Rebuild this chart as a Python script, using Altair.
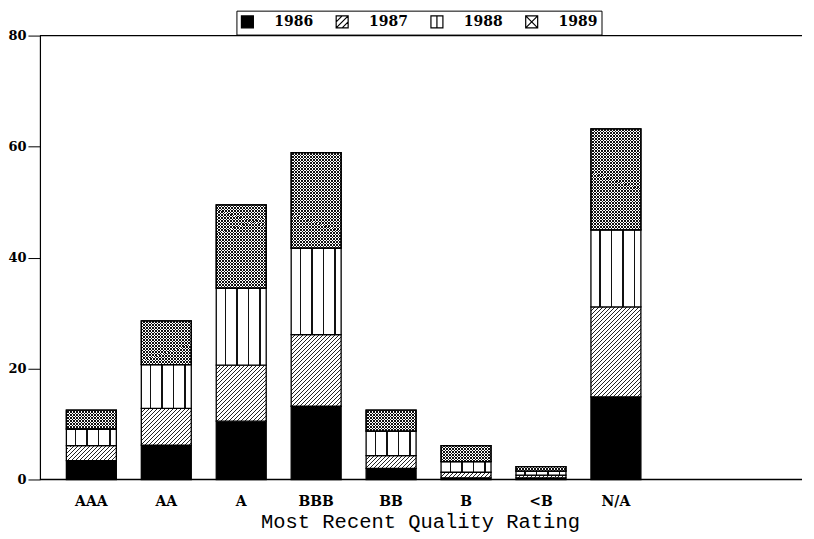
import altair as alt
import pandas as pd
import math

# ---- data ----
ratings = ["AAA", "AA", "A", "BBB", "BB", "B", "<B", "N/A"]
years = ["1986", "1987", "1988", "1989"]
v1986 = [3.4, 6.2, 10.5, 13.2, 2.0, 0.3, 0.3, 14.9]
v1987 = [2.7, 6.6, 10.1, 12.9, 2.3, 1.0, 0.5, 16.2]
v1988 = [3.0, 7.9, 13.9, 15.6, 4.4, 1.9, 0.7, 13.9]
v1989 = [3.4, 7.9, 15.0, 17.2, 3.8, 2.9, 0.8, 18.2]
y_ticks = [0, 20, 40, 60, 80]

series = {"1986": v1986, "1987": v1987, "1988": v1988, "1989": v1989}
rows = []
for yr in years:
    for r, v in zip(ratings, series[yr]):
        rows.append({"rating": r, "year": yr, "value": v})
df = pd.DataFrame(rows)

# ---- layout constants ----
W, H = 764, 445
YMAX = 80
BAR_W = 50
D = 256.0


def stripe_stops(period, lw, color, bg):
    parts = []
    n = int(math.ceil(D / period))
    for k in range(n):
        a = k * period / D
        b = min((k * period + lw) / D, 1.0)
        c = min((k + 1) * period / D, 1.0)
        if a >= 1.0:
            break
        parts.append("{offset:%.6f,color:'%s'}" % (a, color))
        parts.append("{offset:%.6f,color:'%s'}" % (b, color))
        parts.append("{offset:%.6f,color:'%s'}" % (b, bg))
        parts.append("{offset:%.6f,color:'%s'}" % (c, bg))
    return "[" + ",".join(parts) + "]"


def vline_stops(positions, lw, color, bg):
    parts = ["{offset:0,color:'%s'}" % bg]
    for p in positions:
        parts.append("{offset:%.4f,color:'%s'}" % (p, bg))
        parts.append("{offset:%.4f,color:'%s'}" % (p, color))
        parts.append("{offset:%.4f,color:'%s'}" % (p + lw, color))
        parts.append("{offset:%.4f,color:'%s'}" % (p + lw, bg))
    parts.append("{offset:1,color:'%s'}" % bg)
    return "[" + ",".join(parts) + "]"


hatch = stripe_stops(4.0, 1.0, "#222222", "white")
cross_a = stripe_stops(3.0, 1.0, "#111111", "white")
cross_b = stripe_stops(3.0, 1.0, "#111111", "rgba(0,0,0,0)")
vlines = vline_stops([0.17, 0.40, 0.63, 0.86], 0.03, "#111111", "white")

slash = "{gradient:'linear',x1:0,y1:0,x2:%g*%d/datum.s2,y2:%g*datum.h/datum.s2,stops:%s}"
back = "{gradient:'linear',x1:0,y1:1,x2:%g*%d/datum.s2,y2:1-%g*datum.h/datum.s2,stops:%s}"

pat_expr = (
    "datum.year == '1986' ? 'black' : "
    "datum.year == '1987' ? " + slash % (D, BAR_W, D, hatch) + " : "
    "datum.year == '1988' ? {gradient:'linear',x1:0,y1:0,x2:1,y2:0,stops:" + vlines + "} : "
    + slash % (D, BAR_W, D, cross_a)
)
over_expr = back % (D, BAR_W, D, cross_b)

x_enc = alt.X(
    "rating:N",
    sort=ratings,
    scale=alt.Scale(domain=ratings, range=[14, 615], paddingInner=1 / 3, paddingOuter=1 / 6),
    axis=alt.Axis(
        title="Most Recent Quality Rating",
        labelAngle=0,
        ticks=False,
        domain=False,
        labelPadding=15,
        labelFont="DejaVu Serif",
        labelFontWeight="bold",
        labelFontSize=14,
        labelColor="black",
        titleFont="Liberation Mono",
        titleFontWeight="normal",
        titleFontSize=20.5,
        titleColor="black",
        titlePadding=3,
        titleX=381,
        titleAlign="center",
    ),
)
y_scale = alt.Scale(domain=[0, YMAX], nice=False, zero=True)
y_enc = alt.Y(
    "y0:Q",
    scale=y_scale,
    axis=alt.Axis(
        values=y_ticks,
        title=None,
        grid=False,
        tickSize=12,
        tickColor="black",
        domainColor="black",
        domainWidth=1.2,
        labelPadding=2,
        labelFont="DejaVu Serif",
        labelFontWeight="bold",
        labelFontSize=13,
        labelColor="black",
    ),
)

base = (
    alt.Chart(df)
    .transform_stack(
        stack="value",
        groupby=["rating"],
        as_=["y0", "y1"],
        sort=[alt.SortField(field="year", order="ascending")],
    )
    .transform_calculate(h="(datum.y1 - datum.y0) * %g / %g" % (H, YMAX))
    .transform_calculate(s2="%d * %d + datum.h * datum.h" % (BAR_W, BAR_W))
)

bars = (
    base.transform_calculate(pat=pat_expr)
    .mark_bar(stroke="black", strokeWidth=1.3)
    .encode(x=x_enc, y=y_enc, y2="y1:Q", fill=alt.Fill("pat:N", scale=None))
)

overlay = (
    base.transform_filter("datum.year == '1989'")
    .transform_calculate(pat2=over_expr)
    .mark_bar(stroke="black", strokeWidth=1.3)
    .encode(x=x_enc, y=y_enc, y2="y1:Q", fill=alt.Fill("pat2:N", scale=None))
)

frame = (
    alt.Chart(pd.DataFrame({"v": [0, YMAX]}))
    .mark_rule(color="black", strokeWidth=1.3)
    .encode(y=alt.Y("v:Q", scale=y_scale))
)

legend_paths = [
    "M-1,-1H1V1H-1Z",
    "M-1,-1H1V1H-1Z M-1,1L1,-1 M-1,0L0,-1 M0,1L1,0",
    "M-1,-1H1V1H-1Z M0,-1V1",
    "M-1,-1H1V1H-1Z M-1,-1L1,1 M-1,1L1,-1",
]
legend_fills = ["black", "white", "white", "white"]
legend_strokes = ["black", "black", "black", "black"]
leg = alt.Legend(
    title=None,
    orient="none",
    legendX=197,
    legendY=-25,
    direction="horizontal",
    strokeColor="black",
    fillColor="white",
    padding=4,
    symbolSize=144,
    symbolOpacity=1,
    symbolStrokeWidth=1.2,
    labelFont="DejaVu Serif",
    labelFontWeight="bold",
    labelFontSize=14,
    labelColor="black",
    labelOffset=20,
    columnPadding=20,
    labelExpr="datum.label == '1989' ? '1989       ' : datum.label",
)
legend_layer = (
    alt.Chart(pd.DataFrame({"year": years}))
    .mark_point(filled=True, opacity=0, strokeWidth=1.2, size=144)
    .encode(
        shape=alt.Shape("year:N", scale=alt.Scale(domain=years, range=legend_paths), legend=leg),
        color=alt.Color("year:N", scale=alt.Scale(domain=years, range=legend_fills), legend=leg),
        stroke=alt.Stroke("year:N", scale=alt.Scale(domain=years, range=legend_strokes), legend=leg),
    )
)

chart = (
    alt.layer(bars, overlay, frame, legend_layer)
    .properties(
        width=W,
        height=H,
        autosize=alt.AutoSizeParams(type="none"),
        padding={"left": 32, "top": 27, "right": 4, "bottom": 55},
        background="white",
    )
    .configure_view(stroke=None)
)

chart.save("out.html", embed_options={"renderer": "svg", "actions": False})
